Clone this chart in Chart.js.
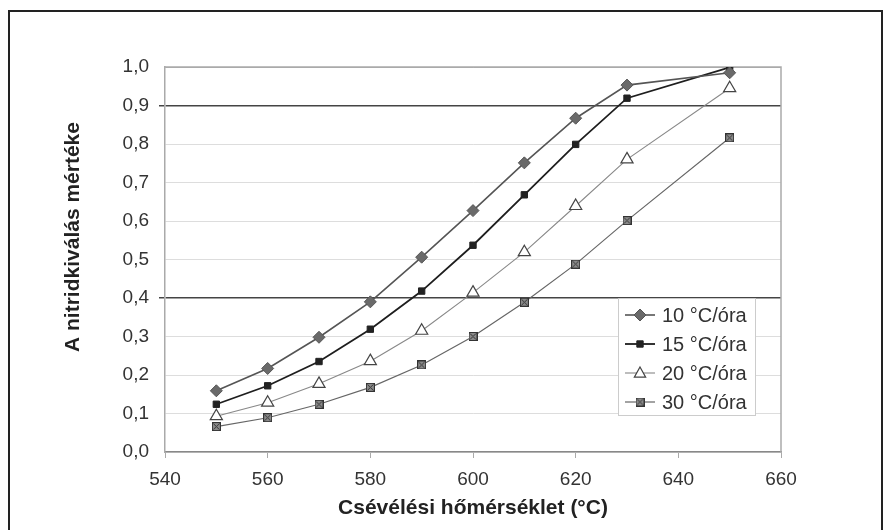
<!DOCTYPE html>
<html>
<head>
<meta charset="utf-8">
<script src="https://cdn.jsdelivr.net/npm/chart.js@4.4.0/dist/chart.umd.min.js"></script>
<style>
  html, body { margin: 0; padding: 0; background: #fff; }
  #wrap { position: relative; width: 884px; height: 530px; overflow: hidden; }
  #frame { position: absolute; left: 8px; top: 10px; width: 871px; height: 560px;
           border: 2px solid #222; border-bottom: none; }
  canvas { position: absolute; left: 0; top: 0; }
</style>
</head>
<body>
<div id="wrap">
  <div id="frame"></div>
  <canvas id="chart" width="884" height="530"></canvas>
</div>
<script>
// ==================== DATA ====================
const temps = [550, 560, 570, 580, 590, 600, 610, 620, 630, 650];
const rate10 = [0.159, 0.217, 0.298, 0.390, 0.506, 0.627, 0.751, 0.867, 0.953, 0.985];
const rate15 = [0.124, 0.172, 0.235, 0.319, 0.418, 0.537, 0.668, 0.799, 0.919, 0.999];
const rate20 = [0.093, 0.128, 0.177, 0.236, 0.315, 0.414, 0.519, 0.639, 0.760, 0.945];
const rate30 = [0.066, 0.089, 0.124, 0.168, 0.226, 0.300, 0.389, 0.488, 0.601, 0.816];
const seriesNames = ['10 °C/óra', '15 °C/óra', '20 °C/óra', '30 °C/óra'];
const xTitle = 'Csévélési hőmérséklet (°C)';
const yTitle = 'A nitridkiválás mértéke';
const darkLines = [0.9, 0.4];

const FONT = '"Liberation Sans", Arial, sans-serif';

// square with a cross, for the 30 °C/óra series
function crossBox() {
    const c = document.createElement('canvas');
    c.width = 9; c.height = 9;
    const g = c.getContext('2d');
    g.fillStyle = '#8a8a8a';
    g.fillRect(0, 0, 9, 9);
    g.strokeStyle = '#333';
    g.lineWidth = 1;
    g.strokeRect(0.5, 0.5, 8, 8);
    g.beginPath();
    g.moveTo(1.5, 1.5); g.lineTo(7.5, 7.5);
    g.moveTo(7.5, 1.5); g.lineTo(1.5, 7.5);
    g.stroke();
    return c;
}
const crossImg = crossBox();

function pts(values) {
    return temps.map((t, i) => ({ x: t, y: values[i] }));
}

const datasets = [
    { label: seriesNames[0], data: pts(rate10), borderColor: '#555', borderWidth: 1.6,
      pointStyle: 'rectRot', pointRadius: 6, pointBackgroundColor: '#6a6a6a', pointBorderColor: '#555', pointBorderWidth: 1 },
    { label: seriesNames[1], data: pts(rate15), borderColor: '#1e1e1e', borderWidth: 1.8,
      pointStyle: 'rect', pointRadius: 4.5, pointBackgroundColor: '#222', pointBorderColor: '#222', pointBorderWidth: 1 },
    { label: seriesNames[2], data: pts(rate20), borderColor: '#888', borderWidth: 1.1,
      pointStyle: 'triangle', pointRadius: 7, pointBackgroundColor: '#fff', pointBorderColor: '#444', pointBorderWidth: 1.2 },
    { label: seriesNames[3], data: pts(rate30), borderColor: '#666', borderWidth: 1.2,
      pointStyle: crossImg, pointRadius: 5, pointBackgroundColor: '#888', pointBorderColor: '#333', pointBorderWidth: 1 }
];
datasets.forEach(d => { d.tension = 0; d.fill = false; });

function isDark(v) {
    return darkLines.some(d => Math.abs(d - v) < 1e-6);
}

// ==================== PLUGINS ====================
const plotBorder = {
    id: 'plotBorder',
    beforeDatasetsDraw(chart) {
        const a = chart.chartArea, ctx = chart.ctx;
        ctx.save();
        ctx.strokeStyle = '#aaa';
        ctx.lineWidth = 1.5;
        ctx.beginPath();
        ctx.moveTo(a.left, a.top);
        ctx.lineTo(a.right, a.top);
        ctx.lineTo(a.right, a.bottom);
        ctx.stroke();
        ctx.restore();
    }
};

const yTitlePlugin = {
    id: 'yTitle',
    afterDraw(chart) {
        const ctx = chart.ctx;
        ctx.save();
        ctx.translate(73, 237);
        ctx.rotate(-Math.PI / 2);
        ctx.font = 'bold 21px ' + FONT;
        ctx.fillStyle = '#222';
        ctx.textAlign = 'center';
        ctx.textBaseline = 'middle';
        ctx.fillText(yTitle, 0, 0);
        ctx.restore();
    }
};

function drawMarker(ctx, ds, x, y) {
    const r = ds.pointRadius;
    ctx.fillStyle = ds.pointBackgroundColor;
    ctx.strokeStyle = ds.pointBorderColor;
    ctx.lineWidth = ds.pointBorderWidth;
    ctx.beginPath();
    if (ds.pointStyle === 'rectRot') {
        ctx.moveTo(x, y - r); ctx.lineTo(x + r, y); ctx.lineTo(x, y + r); ctx.lineTo(x - r, y);
        ctx.closePath();
    } else if (ds.pointStyle === 'rect') {
        const s = r / Math.SQRT2;
        ctx.rect(x - s, y - s, 2 * s, 2 * s);
    } else if (ds.pointStyle === 'triangle') {
        const h = r * 0.85;
        ctx.moveTo(x, y - h); ctx.lineTo(x + h * 0.95, y + h * 0.7); ctx.lineTo(x - h * 0.95, y + h * 0.7);
        ctx.closePath();
    } else {
        ctx.drawImage(ds.pointStyle, x - 4.5, y - 4.5);
        return;
    }
    ctx.fill();
    ctx.stroke();
}

const boxLegend = {
    id: 'boxLegend',
    afterDraw(chart) {
        const ctx = chart.ctx, a = chart.chartArea;
        const left = a.right - 163, top = a.top + 231;
        ctx.save();
        ctx.fillStyle = '#fff';
        ctx.fillRect(left, top, 137, 117);
        ctx.strokeStyle = '#ccc';
        ctx.lineWidth = 1;
        ctx.strokeRect(left + 0.5, top + 0.5, 137, 117);
        chart.data.datasets.forEach((ds, i) => {
            const y = top + 17 + i * 29;
            ctx.strokeStyle = ds.borderColor;
            ctx.lineWidth = ds.borderWidth;
            ctx.beginPath();
            ctx.moveTo(left + 7, y);
            ctx.lineTo(left + 37, y);
            ctx.stroke();
            drawMarker(ctx, ds, left + 22, y);
            ctx.fillStyle = '#333';
            ctx.font = '20px ' + FONT;
            ctx.textAlign = 'left';
            ctx.textBaseline = 'middle';
            ctx.fillText(ds.label, left + 44, y + 1);
        });
        ctx.restore();
    }
};

// ==================== CHART ====================
new Chart(document.getElementById('chart'), {
    type: 'line',
    data: { datasets: datasets },
    options: {
        responsive: false,
        animation: false,
        devicePixelRatio: 1,
        layout: { padding: { left: 0, top: 67, right: 103, bottom: 0 } },
        plugins: {
            legend: { display: false },
            tooltip: { enabled: false }
        },
        scales: {
            x: {
                type: 'linear',
                min: 540, max: 660,
                afterFit: s => { s.height = 78; },
                ticks: { stepSize: 20, padding: 10, color: '#333', font: { family: FONT, size: 19 } },
                grid: { drawOnChartArea: false, drawTicks: true, tickLength: 6, color: '#aaa' },
                border: { color: '#888', width: 1.5 },
                title: { display: true, text: xTitle, color: '#222',
                         font: { family: FONT, size: 21, weight: 'bold' }, padding: { top: 0, bottom: 9 } }
            },
            y: {
                min: 0, max: 1,
                afterFit: s => { s.width = 165; },
                ticks: { stepSize: 0.1, padding: 10, color: '#333', font: { family: FONT, size: 19 },
                         callback: v => v.toFixed(1).replace('.', ',') },
                grid: {
                    tickLength: 6,
                    color: c => isDark(c.tick.value) ? '#444' : (c.tick.value === 1 ? '#aaa' : '#ddd'),
                    tickColor: c => isDark(c.tick.value) ? '#444' : 'rgba(0,0,0,0)',
                    lineWidth: c => isDark(c.tick.value) ? 1.5 : 1
                },
                border: { color: '#aaa', width: 1.5 }
            }
        }
    },
    plugins: [plotBorder, yTitlePlugin, boxLegend]
});
</script>
</body>
</html>
